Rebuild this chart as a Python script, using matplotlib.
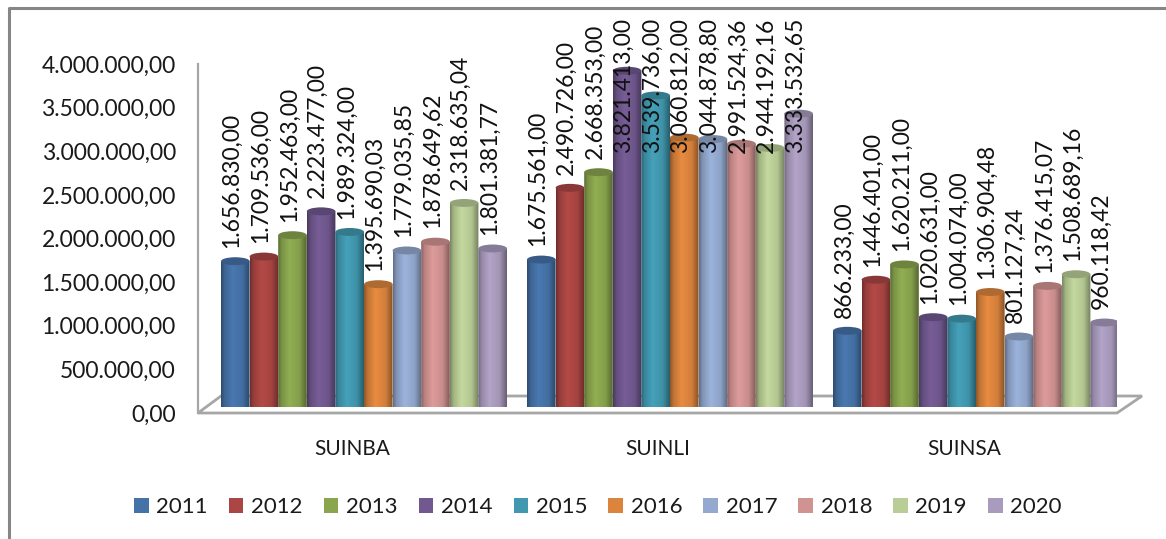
import numpy as np
import matplotlib
matplotlib.use('Agg')
import matplotlib.pyplot as plt
from matplotlib.patches import Ellipse, Patch, PathPatch, Polygon
from matplotlib.path import Path
from matplotlib.lines import Line2D

plt.rcParams['font.family'] = ['Lato', 'DejaVu Sans']

W, H = 1166, 539

# Values
categories = ['SUINBA', 'SUINLI', 'SUINSA']
years = ['2011', '2012', '2013', '2014', '2015', '2016', '2017', '2018', '2019', '2020']
suinba = [1656830.00, 1709536.00, 1952463.00, 2223477.00, 1989324.00,
          1395690.03, 1779035.85, 1878649.62, 2318635.04, 1801381.77]
suinli = [1675561.00, 2490726.00, 2668353.00, 3821413.00, 3539736.00,
          3060812.00, 3044878.80, 2991524.36, 2944192.16, 3333532.65]
suinsa = [866233.00, 1446401.00, 1620211.00, 1020631.00, 1004074.00,
          1306904.48, 801127.24, 1376415.07, 1508689.16, 960118.42]
yticks = [0, 500000, 1000000, 1500000, 2000000, 2500000, 3000000, 3500000, 4000000]
colors = ['#4572A7', '#AA4643', '#89A54E', '#71588F', '#4198AF',
          '#DB843D', '#93A9CF', '#D19392', '#B9CD96', '#A99BBD']
groups = [suinba, suinli, suinsa]


def money(v):
    # German style number format, dots for thousands
    return f'{v:,.2f}'.replace(',', '#').replace('.', ',').replace('#', '.')


def box(x0, y_top, x1, y_bottom):
    # pixel box to figure fractions
    return [x0 / W, 1 - y_bottom / H, (x1 - x0) / W, (y_bottom - y_top) / H]


def px(x, y):
    return (x / W, 1 - y / H)


fig = plt.figure(figsize=(W / 100, H / 100), dpi=100)

# outer frame, only left and top are in the crop
fig.add_artist(Line2D([9 / W, 9 / W, 1], [0, 1 - 8 / H, 1 - 8 / H], color='#868686', lw=2.2, zorder=-2))

# floor of the 3d box, has to stay behind the axes
floor = Polygon([px(198, 413), px(1117, 413), px(1142, 396), px(221, 396)], closed=True,
                transform=fig.transFigure, facecolor='white', edgecolor='#A6A6A6', lw=2, zorder=-1)
fig.add_artist(floor)

# wall axes carries the tick labels
wall = fig.add_axes(box(198, 64, 1117, 413))
wall.patch.set_alpha(0)
wall.set_ylim(0, 4000000)
wall.set_xlim((198 - 352) / 306, (1117 - 352) / 306)
wall.set_yticks(yticks)
wall.set_yticklabels([money(t) for t in yticks], fontsize=16.5, color='#1a1a1a')
wall.tick_params(axis='y', length=0, pad=16)
wall.set_xticks(range(len(categories)))
wall.set_xticklabels(categories, fontsize=15, color='#1a1a1a')
wall.tick_params(axis='x', length=0, pad=19)
for s in ['top', 'right', 'bottom']:
    wall.spines[s].set_visible(False)
wall.spines['left'].set_color('#A6A6A6')
wall.spines['left'].set_linewidth(1.6)

# bars axes, 88 px per million
ax = fig.add_axes(box(198, 55, 1117, 407))
ax.patch.set_alpha(0)
ax.axis('off')

bar_w = 28.6 / 306
ell_h = 45000
label_gap = 150000
label_cap = 2886000

shade = np.interp(np.linspace(0, 1, 60), [0, 0.12, 0.4, 0.75, 1], [0.66, 0.88, 1.06, 0.96, 0.62])

for i, vals in enumerate(groups):
    for j, v in enumerate(vals):
        x0 = i + (j - 5) * bar_w
        x1 = x0 + bar_w
        xc = (x0 + x1) / 2
        c = np.array(matplotlib.colors.to_rgb(colors[j]))
        grad = np.clip(shade[None, :, None] * c[None, None, :], 0, 1)
        t = np.linspace(np.pi, 2 * np.pi, 30)
        xs = np.r_[x0, xc + bar_w / 2 * np.cos(t), x1]
        ys = np.r_[v, ell_h * np.sin(t), v]
        clip = PathPatch(Path(np.c_[xs, ys]), facecolor='none', edgecolor='none', zorder=2 + j / 100)
        ax.add_patch(clip)
        im = ax.imshow(grad, extent=(x0, x1, -ell_h, v), aspect='auto', zorder=2 + j / 100)
        im.set_clip_path(clip)
        ax.add_patch(Ellipse((xc, v), bar_w, 2 * ell_h, facecolor=c * 0.8, edgecolor='none',
                             zorder=2 + j / 100 + 0.001))
        ax.text(xc - 3.5 / 306, min(v + label_gap, label_cap), money(v), rotation=90,
                ha='center', va='bottom', fontsize=16.5, color='#111111', zorder=5, clip_on=False)

ax.set_xlim((198 - 364) / 306, (1117 - 364) / 306)
ax.set_ylim(0, 4000000)

handles = [Patch(facecolor=c, edgecolor='none', label=y) for c, y in zip(colors, years)]
fig.legend(handles=handles, loc='center', bbox_to_anchor=(598 / W, 1 - 507 / H), ncol=10,
           frameon=False, fontsize=16, handlelength=0.65, handleheight=0.65,
           handletextpad=0.35, columnspacing=0.95, labelcolor='#1a1a1a')

fig.savefig('out.png', dpi=100, facecolor='white')
